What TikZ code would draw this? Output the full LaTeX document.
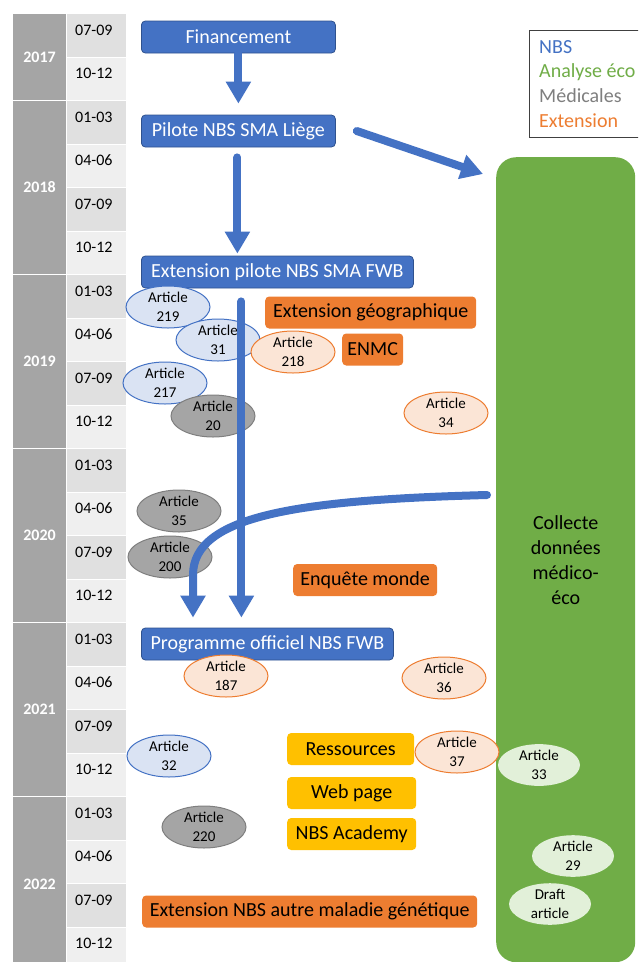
\documentclass[tikz,border=0pt]{standalone}
\usepackage{fontspec}
\setmainfont{Carlito}
\usepackage{tikz}
\usetikzlibrary{arrows.meta}
\usetikzlibrary{shapes.geometric}

\definecolor{nbsblue}{HTML}{4472C4}
\definecolor{nbsdark}{HTML}{2F528F}
\definecolor{ecogreen}{HTML}{70AD47}
\definecolor{extorange}{HTML}{ED7D31}
\definecolor{resyellow}{HTML}{FFC000}
\definecolor{medgray}{HTML}{A5A5A5}
\definecolor{meddark}{HTML}{7F7F7F}
\definecolor{lightblue}{HTML}{DAE3F3}
\definecolor{lightorange}{HTML}{FBE5D6}
\definecolor{lightgreen}{HTML}{E2F0D9}
\definecolor{rowdark}{HTML}{E0E0E0}
\definecolor{rowlight}{HTML}{EFEFEF}

\begin{document}
\begin{tikzpicture}[x=1pt,y=-1pt,
	box/.style={rectangle,rounded corners=4pt,minimum height=32pt,inner sep=0pt,anchor=west,
	            font=\fontsize{20}{24}\selectfont},
	bluebox/.style={box,fill=nbsblue,draw=nbsdark,line width=0.8pt,text=white},
	orangebox/.style={box,fill=extorange,text=black},
	yellowbox/.style={box,fill=resyellow,text=black},
	art/.style={ellipse,minimum width=84pt,minimum height=42pt,inner sep=0pt,align=center,
	            line width=1pt,font=\fontsize{15}{19}\selectfont}]
	\useasboundingbox (0,0) rectangle (638,962);
	\clip (0,0) rectangle (638,962);

	% time table
	\foreach \q [count=\i from 0] in {07-09,10-12,01-03,04-06,07-09,10-12,01-03,04-06,07-09,10-12,
	                                   01-03,04-06,07-09,10-12,01-03,04-06,07-09,10-12,01-03,04-06,07-09,10-12} {
		\pgfmathsetmacro{\top}{14+43.5*\i}
		\pgfmathparse{int(mod(\i,2))}
		\ifnum\pgfmathresult=0 \def\rowcol{rowdark}\else\def\rowcol{rowlight}\fi
		\fill[\rowcol] (67,\top) rectangle (126,\top+42.5);
		\node[anchor=west,inner sep=0pt,font=\fontsize{16}{19}\selectfont] (q\i) at (75,\top+16) {\q};
	}
	\foreach \y/\top/\bot in {2017/14/100,2018/101/274,2019/275/448,2020/449/622,2021/623/796,2022/797/971} {
		\fill[medgray] (13,\top) rectangle (66,\bot);
		\node[text=white,font=\fontsize{16}{19}\selectfont\bfseries] (y\y) at (39.5,{(\top+\bot)/2}) {\y};
	}

	% collecte + legend
	\node[fill=ecogreen,rounded corners=20pt,minimum width=139pt,minimum height=805pt,anchor=north west,
	      align=center,font=\fontsize{20}{25}\selectfont] (green) at (496,157) {Collecte\\données\\médico-\\éco};
	\node[draw=black!75,fill=white,line width=0.8pt,minimum width=115pt,minimum height=107pt,anchor=north west] (legend) at (529,30) {};
	\node[anchor=west,align=left,inner sep=0pt,font=\fontsize{20}{24.7}\selectfont] (legtext) at ([xshift=10pt]legend.west)
		{\textcolor{nbsblue}{NBS}\\\textcolor{ecogreen}{Analyse éco}\\\textcolor{meddark}{Médicales}\\\textcolor{extorange}{Extension}};

	% steps
	\node[bluebox,minimum width=194pt] (fin) at (141,37) {Financement};
	\node[bluebox,minimum width=194pt] (pil) at (141,131) {Pilote NBS SMA Liège};
	\node[bluebox,minimum width=272pt] (ext) at (141,272) {Extension pilote NBS SMA FWB};
	\node[bluebox,minimum width=252pt] (prog) at (141,644) {Programme officiel NBS FWB};
	\node[orangebox,minimum width=211pt] (geo) at (265,312.5) {Extension géographique};
	\node[orangebox,minimum width=61pt] (enmc) at (342,349.5) {ENMC};
	\node[orangebox,minimum width=144pt] (monde) at (293,580) {Enquête monde};
	\node[orangebox,minimum width=335pt] (autre) at (142,911.5) {Extension NBS autre maladie génétique};
	\node[yellowbox,minimum width=127pt] (res) at (287,749) {Ressources};
	\node[yellowbox,minimum width=129pt] (web) at (287,793) {Web page};
	\node[yellowbox,minimum width=129pt] (acad) at (287,834) {NBS Academy};

	% articles
	\begin{scope}[every node/.style={art,fill=lightblue,draw=nbsblue}]
		\node (a219) at (168,307) {Article\\219};
		\node (a31) at (218,340) {Article\\31};
		\node (a217) at (165,383) {Article\\217};
		\node (a32) at (169,756) {Article\\32};
	\end{scope}
	\begin{scope}[every node/.style={art,fill=medgray,draw=meddark}]
		\node (a20) at (213,416) {Article\\20};
		\node (a35) at (179,511) {Article\\35};
		\node (a200) at (170,557) {Article\\200};
		\node (a220) at (204,827) {Article\\220};
	\end{scope}
	\begin{scope}[every node/.style={art,fill=lightorange,draw=extorange}]
		\node (a218) at (293,352) {Article\\218};
		\node (a34) at (446,413) {Article\\34};
		\node (a187) at (226,676) {Article\\187};
		\node (a36) at (444,678) {Article\\36};
		\node (a37) at (457,752) {Article\\37};
	\end{scope}
	\begin{scope}[every node/.style={art,fill=lightgreen,draw=none,minimum width=82pt,minimum height=40pt}]
		\node (a33) at (539,765) {Article\\33};
		\node (a29) at (573,856) {Article\\29};
		\node (draft) at (550,904) {Draft\\article};
	\end{scope}

	% arrows
	\coordinate (gtip) at ([xshift=-13pt,yshift=-17pt]green.north west);
	\coordinate (vtop) at ([xshift=-36pt,yshift=-13pt]ext.south);
	\coordinate (cstart) at (487,495);
	\coordinate (ctip) at ([xshift=52pt,yshift=10pt]prog.north west);
	\begin{scope}[every edge/.style={draw=nbsblue,line width=8pt,line cap=round},
	              >={Triangle[width=24pt,length=22pt,line cap=butt]}]
		\path (fin) edge[->,shorten >=11pt] (pil);
		\path ([xshift=-1pt]pil.south) edge[->,shorten <=10pt,shorten >=2pt] ([xshift=-1pt]pil.south |- ext.north);
		\path ([xshift=21pt]pil.east) edge[->] (gtip);
		\path (vtop) edge[->,shorten >=10pt] (vtop |- prog.north);
		\draw[nbsblue,line width=8pt,line cap=round,->] (cstart) .. controls (300,500) and (193,515) .. (193,575) -- (ctip);
	\end{scope}
\end{tikzpicture}
\end{document}
